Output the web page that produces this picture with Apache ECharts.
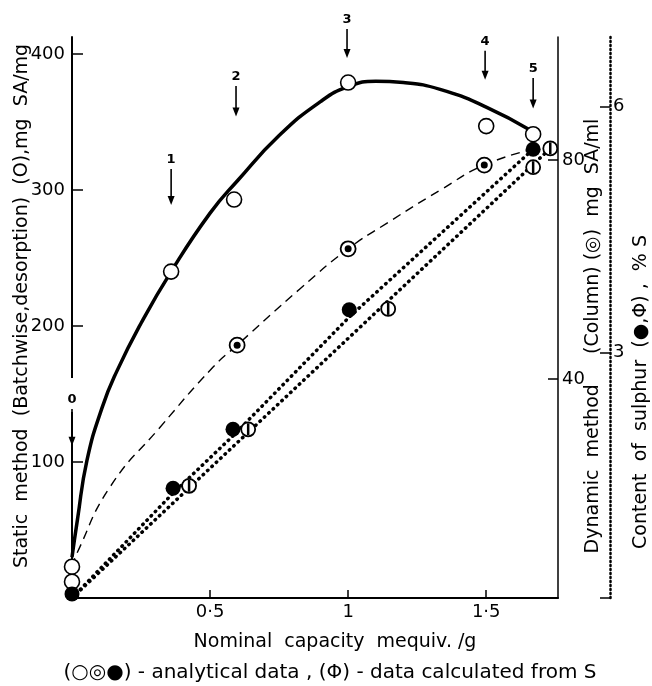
<!DOCTYPE html>
<html>
<head>
<meta charset="utf-8">
<script src="https://cdn.jsdelivr.net/npm/echarts@6/dist/echarts.min.js"></script>
<style>
  html, body { margin: 0; padding: 0; background: #fff; }
  #chart { width: 652px; height: 686px; }
</style>
</head>
<body>
<div id="chart"></div>
<script>
// x axis ticks
var xTicks = [0.5, 1, 1.5];
var xTickLabels = ['0·5', '1', '1·5'];

// static method (batchwise, desorption), open circles, mg SA/mg
var staticX = [0, 0, 0.359, 0.587, 1.0, 1.5, 1.67];
var staticY = [23, 12, 240, 293, 379, 347, 341];
// solid curve
var staticCurveX = [0, 0.02, 0.054, 0.109, 0.163, 0.25, 0.359, 0.5, 0.6, 0.75, 0.9, 1.0, 1.1, 1.2, 1.333, 1.5, 1.66];
var staticCurveY = [30, 58, 101, 140, 167, 202, 240, 283, 307, 340, 365, 376, 380, 379, 374, 361, 344];

// dynamic method (column), ringed dots, mg SA/ml
var dynamicX = [0.598, 1.0, 1.493];
var dynamicY = [46.2, 63.8, 79.1];
// dashed curve
var dynamicCurveX = [0, 0.018, 0.138, 0.319, 0.511, 0.598, 0.826, 1.0, 1.141, 1.333, 1.493, 1.67];
var dynamicCurveY = [5.7, 8.2, 20.3, 31.2, 42.2, 46.2, 56.5, 63.8, 68.5, 74.5, 79.1, 82.0];

// sulphur content, analytical (filled dots), % S
var sulphurX = [0, 0.366, 0.583, 1.004, 1.67];
var sulphurY = [0.05, 1.34, 2.06, 3.52, 5.48];
var sulphurLineX = [0, 0.366, 0.583, 1.004, 1.67];
var sulphurLineY = [0, 1.28, 1.98, 3.43, 5.48];

// sulphur, calculated (circle with bar)
var calcX = [0.424, 0.638, 1.145, 1.67, 1.732];
var calcY = [1.37, 2.06, 3.53, 5.26, 5.49];
var calcLineX = [0, 1.732];
var calcLineY = [0, 5.49];

// numbered arrows (in static axis units)
var arrowX = [0, 0.359, 0.594, 0.996, 1.496, 1.67];
var arrowLabelY = [145.6, 322, 383, 425, 409, 389];
var arrowTipY = [112, 289, 354, 397, 381, 360];
var arrowLabels = ['0', '1', '2', '3', '4', '5'];

function zip(a, b) {
    return a.map(function (v, i) { return [v, b[i]]; });
}

var FONT = 'DejaVu Sans';
var chart = echarts.init(document.getElementById('chart'));

function yLabel(margin) {
    return {
        margin: margin,
        color: '#000',
        fontFamily: FONT,
        fontSize: 18,
        showMaxLabel: false,
        formatter: function (v) { return v === 0 ? '' : v; }
    };
}

var option = {
    animation: false,
    backgroundColor: '#fff',
    grid: { left: 72, right: 94, top: 37, bottom: 88 },
    xAxis: {
        type: 'value',
        min: 0,
        max: 1.76,
        interval: 0.5,
        axisLine: { lineStyle: { color: '#000', width: 2 } },
        axisTick: { inside: true, length: 8, lineStyle: { color: '#000', width: 1.5 } },
        axisLabel: {
            margin: 5,
            color: '#000',
            fontFamily: FONT,
            fontSize: 18,
            showMaxLabel: false,
            formatter: function (v) {
                var i = xTicks.indexOf(v);
                return i < 0 ? '' : xTickLabels[i];
            }
        },
        splitLine: { show: false }
    },
    yAxis: [
        {
            type: 'value',
            min: 0,
            max: 412.5,
            interval: 100,
            axisLine: { show: true, lineStyle: { color: '#000', width: 2 } },
            axisTick: { inside: true, length: 11, lineStyle: { color: '#000', width: 1.5 } },
            axisLabel: yLabel(7),
            splitLine: { show: false }
        },
        {
            type: 'value',
            position: 'right',
            min: 0,
            max: 102.5,
            interval: 40,
            axisLine: { show: true, lineStyle: { color: '#000', width: 1.5 } },
            axisTick: { inside: true, length: 10, lineStyle: { color: '#000', width: 1.5 } },
            axisLabel: yLabel(4),
            splitLine: { show: false }
        },
        {
            type: 'value',
            position: 'right',
            offset: 52,
            min: 0,
            max: 6.85,
            interval: 3,
            axisLine: { show: true, lineStyle: { color: '#000', width: 2.5, type: [1, 3], cap: 'round' } },
            axisTick: { inside: true, length: 10, lineStyle: { color: '#000', width: 1.5 } },
            axisLabel: yLabel(3),
            splitLine: { show: false }
        }
    ],
    graphic: [
        {
            type: 'text', x: 22, y: 306, rotation: Math.PI / 2,
            style: { text: 'Static  method  (Batchwise,desorption)  (O),mg  SA/mg', align: 'center', verticalAlign: 'middle', font: '19px ' + FONT, fill: '#000' }
        },
        {
            type: 'text', x: 593, y: 336, rotation: Math.PI / 2,
            style: { text: 'Dynamic  method     (Column) (◎)  mg  SA/ml', align: 'center', verticalAlign: 'middle', font: '19px ' + FONT, fill: '#000' }
        },
        {
            type: 'text', x: 641, y: 392, rotation: Math.PI / 2,
            style: { text: 'Content  of  sulphur  (●,Φ) ,  % S', align: 'center', verticalAlign: 'middle', font: '19px ' + FONT, fill: '#000' }
        },
        {
            type: 'text', x: 335, y: 642,
            style: { text: 'Nominal  capacity  mequiv. /g', align: 'center', verticalAlign: 'middle', font: '19px ' + FONT, fill: '#000' }
        },
        {
            type: 'text', x: 330, y: 673,
            style: { text: '(○◎●) - analytical data , (Φ) - data calculated from S', align: 'center', verticalAlign: 'middle', font: '20px ' + FONT, fill: '#000' }
        }
    ],
    series: [
        {
            name: 'static curve',
            type: 'line',
            yAxisIndex: 0,
            smooth: true,
            showSymbol: false,
            data: zip(staticCurveX, staticCurveY),
            lineStyle: { color: '#000', width: 3.5 },
            z: 3
        },
        {
            name: 'dynamic curve',
            type: 'line',
            yAxisIndex: 1,
            smooth: true,
            showSymbol: false,
            data: zip(dynamicCurveX, dynamicCurveY),
            lineStyle: { color: '#000', width: 1.4, type: [9, 6] },
            z: 3
        },
        {
            name: 'sulphur line',
            type: 'line',
            yAxisIndex: 2,
            showSymbol: false,
            data: zip(sulphurLineX, sulphurLineY),
            lineStyle: { color: '#000', width: 3.5, type: [0.5, 5.5], cap: 'round' },
            z: 3
        },
        {
            name: 'calc line',
            type: 'line',
            yAxisIndex: 2,
            showSymbol: false,
            data: zip(calcLineX, calcLineY),
            lineStyle: { color: '#000', width: 3.5, type: [0.5, 5.5], cap: 'round' },
            z: 3
        },
        {
            name: 'static',
            type: 'scatter',
            yAxisIndex: 0,
            symbol: 'circle',
            symbolSize: 15,
            data: zip(staticX, staticY),
            itemStyle: { color: '#fff', borderColor: '#000', borderWidth: 1.6, opacity: 1 },
            z: 5
        },
        {
            name: 'dynamic ring',
            type: 'scatter',
            yAxisIndex: 1,
            symbol: 'circle',
            symbolSize: 15,
            data: zip(dynamicX, dynamicY),
            itemStyle: { color: '#fff', borderColor: '#000', borderWidth: 1.8, opacity: 1 },
            z: 5
        },
        {
            name: 'dynamic dot',
            type: 'scatter',
            yAxisIndex: 1,
            symbol: 'circle',
            symbolSize: 7,
            data: zip(dynamicX, dynamicY),
            itemStyle: { color: '#000', opacity: 1 },
            z: 6
        },
        {
            name: 'calc ring',
            type: 'scatter',
            yAxisIndex: 2,
            symbol: 'circle',
            symbolSize: 14,
            data: zip(calcX, calcY),
            itemStyle: { color: '#fff', borderColor: '#000', borderWidth: 1.8, opacity: 1 },
            z: 5
        },
        {
            name: 'calc bar',
            type: 'scatter',
            yAxisIndex: 2,
            symbol: 'rect',
            symbolSize: [2.5, 12],
            data: zip(calcX, calcY),
            itemStyle: { color: '#000', opacity: 1 },
            z: 6
        },
        {
            name: 'sulphur',
            type: 'scatter',
            yAxisIndex: 2,
            symbol: 'circle',
            symbolSize: 15,
            data: zip(sulphurX, sulphurY),
            itemStyle: { color: '#000', opacity: 1 },
            z: 7
        },
        {
            name: 'arrows',
            type: 'custom',
            yAxisIndex: 0,
            clip: false,
            silent: true,
            z: 8,
            data: arrowX.map(function (x, i) { return [x, arrowLabelY[i], arrowTipY[i]]; }),
            renderItem: function (params, api) {
                var i = params.dataIndex;
                var pl = api.coord([api.value(0), api.value(1)]);
                var pt = api.coord([api.value(0), api.value(2)]);
                var children = [];
                if (i === 0) {
                    // gap in the left axis where the zero arrow sits
                    children.push({
                        type: 'rect',
                        shape: { x: pl[0] - 5, y: pl[1] - 22, width: 10, height: 34 },
                        style: { fill: '#fff' }
                    });
                }
                children.push({
                    type: 'text',
                    x: pl[0], y: pl[1],
                    style: { text: arrowLabels[i], align: 'center', verticalAlign: 'middle', font: 'bold 13px ' + FONT, fill: '#000' }
                });
                children.push({
                    type: 'line',
                    shape: { x1: pl[0], y1: pl[1] + 9, x2: pt[0], y2: pt[1] - 6 },
                    style: { stroke: '#000', lineWidth: 1.6 }
                });
                children.push({
                    type: 'polygon',
                    shape: { points: [[pt[0] - 3.5, pt[1] - 9], [pt[0] + 3.5, pt[1] - 9], [pt[0], pt[1]]] },
                    style: { fill: '#000' }
                });
                return { type: 'group', children: children };
            }
        }
    ]
};

chart.setOption(option);
</script>
</body>
</html>
